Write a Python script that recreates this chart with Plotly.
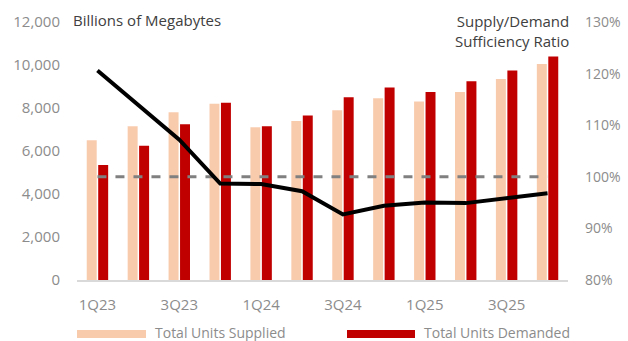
import plotly.graph_objects as go

quarters = ["1Q23", "2Q23", "3Q23", "4Q23", "1Q24", "2Q24", "3Q24", "4Q24",
            "1Q25", "2Q25", "3Q25", "4Q25"]
tick_quarters = ["1Q23", "3Q23", "1Q24", "3Q24", "1Q25", "3Q25"]

# Billions of megabytes
units_supplied = [6500, 7150, 7800, 8200, 7100, 7400, 7900, 8450, 8300, 8750, 9350, 10050]
units_demanded = [5350, 6250, 7250, 8250, 7150, 7650, 8500, 8950, 8750, 9250, 9750, 10400]

# Supply/demand sufficiency ratio, percent
sufficiency_ratio = [120.6, 113.9, 107.2, 98.7, 98.6, 97.2, 92.7, 94.4, 95.0, 94.9, 95.8, 96.8]
balance_line = [100] * len(quarters)

ratio_ticks = [80, 90, 100, 110, 120, 130]
ratio_tick_labels = ["80%", "90%", "100%", "110%", "120%", "130%"]
volume_ticks = [0, 2000, 4000, 6000, 8000, 10000, 12000]

SUPPLY_COLOR = "#F8CBAD"
DEMAND_COLOR = "#C00000"
TICK_COLOR = "#8C8C8C"
TITLE_COLOR = "#404040"
FONT = "Open Sans"

fig = go.Figure()
fig.add_trace(go.Bar(x=quarters, y=units_supplied, name="Total Units Supplied",
                     marker=dict(color=SUPPLY_COLOR, line=dict(width=0))))
fig.add_trace(go.Bar(x=quarters, y=units_demanded, name="Total Units Demanded",
                     marker=dict(color=DEMAND_COLOR, line=dict(width=0))))
fig.add_trace(go.Scatter(x=quarters, y=balance_line, yaxis="y2", mode="lines",
                         line=dict(color="#808080", width=3, dash="dash")))
fig.add_trace(go.Scatter(x=quarters, y=sufficiency_ratio, yaxis="y2", mode="lines",
                         line=dict(color="#000000", width=4)))

L, R, T, B = 77, 60, 22, 61
W, H = 628, 341
pw, ph = W - L - R, H - T - B

def px_x(x):
    return (x - L) / pw

def px_y(y):
    return (H - B - y) / ph

# Legend drawn as wide swatches with labels beneath the plot
shapes = []
annotations = []
for x0, x1, tx, color, label in [
    (77, 146, 153, SUPPLY_COLOR, "Total Units Supplied"),
    (347, 415, 422, DEMAND_COLOR, "Total Units Demanded"),
]:
    shapes.append(dict(type="rect", xref="paper", yref="paper",
                       x0=px_x(x0), x1=px_x(x1), y0=px_y(338), y1=px_y(330),
                       fillcolor=color, line=dict(width=0)))
    annotations.append(dict(xref="paper", yref="paper", x=px_x(tx), y=px_y(332),
                            text=label, showarrow=False, xanchor="left", yanchor="middle",
                            font=dict(family=FONT, size=14, color=TICK_COLOR)))

annotations.append(dict(xref="paper", yref="paper", x=px_x(71), y=px_y(20),
                        text="Billions of Megabytes", showarrow=False,
                        xanchor="left", yanchor="middle",
                        font=dict(family=FONT, size=15, color=TITLE_COLOR)))
annotations.append(dict(xref="paper", yref="paper", x=px_x(571), y=px_y(31),
                        text="Supply/Demand<br>Sufficiency Ratio", showarrow=False,
                        xanchor="right", yanchor="middle", align="right",
                        font=dict(family=FONT, size=15, color=TITLE_COLOR)))

fig.update_layout(
    width=W, height=H,
    margin=dict(l=L, r=R, t=T, b=B, pad=0, autoexpand=False),
    paper_bgcolor="white", plot_bgcolor="white",
    barmode="group", bargap=0.44, bargroupgap=0.13,
    showlegend=False,
    font=dict(family=FONT, size=14, color=TICK_COLOR),
    xaxis=dict(type="category", tickmode="array", tickvals=tick_quarters,
               ticktext=tick_quarters, showline=True, linecolor="#D9D9D9",
               linewidth=2, ticks="", showgrid=False, zeroline=False, automargin=False,
               tickfont=dict(family=FONT, size=15, color=TICK_COLOR), ticklabelstandoff=10),
    yaxis=dict(range=[0, 12000], tickmode="array", tickvals=volume_ticks,
               tickformat=",d", showgrid=False, zeroline=False, showline=False,
               automargin=False,
               tickfont=dict(family=FONT, size=15, color=TICK_COLOR), ticklabelstandoff=16),
    yaxis2=dict(range=[80, 130], overlaying="y", side="right",
                tickmode="array", tickvals=ratio_ticks, ticktext=ratio_tick_labels,
                showgrid=False, zeroline=False, showline=False, automargin=False,
                tickfont=dict(family=FONT, size=14, color=TICK_COLOR), ticklabelstandoff=16),
    shapes=shapes,
    annotations=annotations,
)

fig.write_html("out.html")
